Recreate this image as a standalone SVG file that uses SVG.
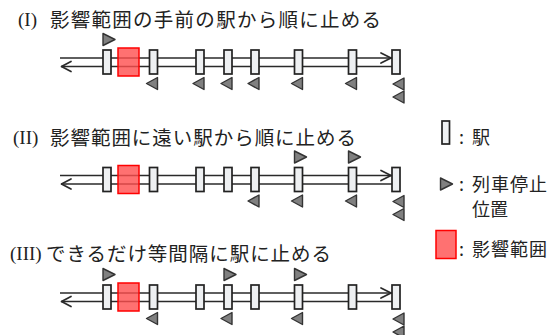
<svg xmlns="http://www.w3.org/2000/svg" xmlns:xlink="http://www.w3.org/1999/xlink" width="556" height="335" viewBox="0 0 556 335">
<style>
.rail{stroke:#2a2a2a;stroke-width:1.6;fill:none}
.head{stroke:#2a2a2a;stroke-width:1.7;fill:none;stroke-linecap:round;stroke-linejoin:round}
.st{fill:#eef0f2;stroke:#222;stroke-width:1.7}
.zone{fill:#ff4d4d;fill-opacity:0.8;stroke:#ff0000;stroke-width:1.5}
.tri{fill:#808080;stroke:#333;stroke-width:1.4;stroke-linejoin:round}
.ser{font-family:"Liberation Serif","Times New Roman",serif;font-size:19px;fill:#222}
.jp{font-family:"Noto Sans CJK JP","Noto Sans",sans-serif;font-size:19.5px;fill:#222}
.lg{font-family:"Noto Sans CJK JP","Noto Sans",sans-serif;font-size:18px;fill:#222}
</style>
<defs>
<path id="tl" class="tri" d="M0,6 L11,0 L11,12 Z"/>
<path id="tr" class="tri" d="M0,0 L12,6 L0,12 Z"/>
<g id="railset">
<line class="rail" x1="60" y1="58" x2="392" y2="58"/>
<line class="rail" x1="61" y1="66.5" x2="392" y2="66.5"/>
<path class="head" d="M381,53 L391,58 L381,63"/>
<path class="head" d="M71,61.5 L61.5,66.5 L71,71.5"/>
</g>
<g id="stations">
<rect class="st" x="103" y="50" width="8" height="24"/>
<rect class="st" x="149.5" y="50" width="8" height="24"/>
<rect class="st" x="196" y="50" width="8" height="24"/>
<rect class="st" x="224" y="50" width="8" height="24"/>
<rect class="st" x="251" y="50" width="8" height="24"/>
<rect class="st" x="294.5" y="50" width="8" height="24"/>
<rect class="st" x="348.5" y="50" width="8" height="24"/>
<rect class="st" x="392" y="50" width="8" height="24"/>
</g>
</defs>

<!-- Panel I -->
<g id="title1">
<text class="ser" x="18" y="26">(I)</text>
<text class="jp" x="50" y="26.5" textLength="331" lengthAdjust="spacing">影響範囲の手前の駅から順に止める</text>
</g>
<g id="connectors1"><use xlink:href="#railset"/></g>
<g id="zone1"><rect class="zone" x="118" y="48" width="21" height="28"/></g>
<g id="stations1"><use xlink:href="#stations"/></g>
<g id="stops1">
<use xlink:href="#tr" x="103" y="33.5"/>
<use xlink:href="#tl" x="146.5" y="77.5"/>
<use xlink:href="#tl" x="193" y="77.5"/>
<use xlink:href="#tl" x="221" y="77.5"/>
<use xlink:href="#tl" x="248" y="77.5"/>
<use xlink:href="#tl" x="291.5" y="77.5"/>
<use xlink:href="#tl" x="345.5" y="77.5"/>
<use xlink:href="#tl" x="393" y="78"/>
<use xlink:href="#tl" x="393" y="91"/>
</g>

<!-- Panel II -->
<g id="title2">
<text class="ser" x="13" y="144">(II)</text>
<text class="jp" x="50" y="144.5" textLength="306" lengthAdjust="spacing">影響範囲に遠い駅から順に止める</text>
</g>
<g transform="translate(0,117.5)">
<g id="connectors2"><use xlink:href="#railset"/></g>
<g id="zone2"><rect class="zone" x="118" y="48" width="21" height="28"/></g>
<g id="stations2"><use xlink:href="#stations"/></g>
<g id="stops2">
<use xlink:href="#tr" x="294.5" y="33.5"/>
<use xlink:href="#tr" x="348.5" y="33.5"/>
<use xlink:href="#tl" x="248" y="77.5"/>
<use xlink:href="#tl" x="291.5" y="77.5"/>
<use xlink:href="#tl" x="345.5" y="77.5"/>
<use xlink:href="#tl" x="393" y="78"/>
<use xlink:href="#tl" x="393" y="91"/>
</g>
</g>

<!-- Panel III -->
<g id="title3">
<text class="ser" x="10" y="260">(III)</text>
<text class="jp" x="46" y="260.5" textLength="285" lengthAdjust="spacing">できるだけ等間隔に駅に止める</text>
</g>
<g transform="translate(0,235)">
<g id="connectors3"><use xlink:href="#railset"/></g>
<g id="zone3"><rect class="zone" x="118" y="48" width="21" height="28"/></g>
<g id="stations3"><use xlink:href="#stations"/></g>
<g id="stops3">
<use xlink:href="#tr" x="103" y="33.5"/>
<use xlink:href="#tr" x="224" y="33.5"/>
<use xlink:href="#tr" x="294.5" y="33.5"/>
<use xlink:href="#tl" x="146.5" y="77.5"/>
<use xlink:href="#tl" x="221" y="77.5"/>
<use xlink:href="#tl" x="291.5" y="77.5"/>
<use xlink:href="#tl" x="393" y="78"/>
<use xlink:href="#tl" x="393" y="91"/>
</g>
</g>

<!-- Legend -->
<g id="legend-station">
<rect class="st" x="442" y="121" width="7.5" height="23"/>
<text class="lg" x="459" y="143.5">:</text>
<text class="lg" x="472" y="143.5">駅</text>
</g>
<g id="legend-stop">
<use xlink:href="#tr" x="440.5" y="178"/>
<text class="lg" x="459" y="190.5">:</text>
<text class="lg" x="472" y="190.5" textLength="75" lengthAdjust="spacing">列車停止</text>
<text class="lg" x="472" y="215.5">位置</text>
</g>
<g id="legend-zone">
<rect class="zone" x="436" y="230.5" width="20" height="28"/>
<text class="lg" x="459" y="255.5">:</text>
<text class="lg" x="472" y="255.5" textLength="75" lengthAdjust="spacing">影響範囲</text>
</g>
</svg>
